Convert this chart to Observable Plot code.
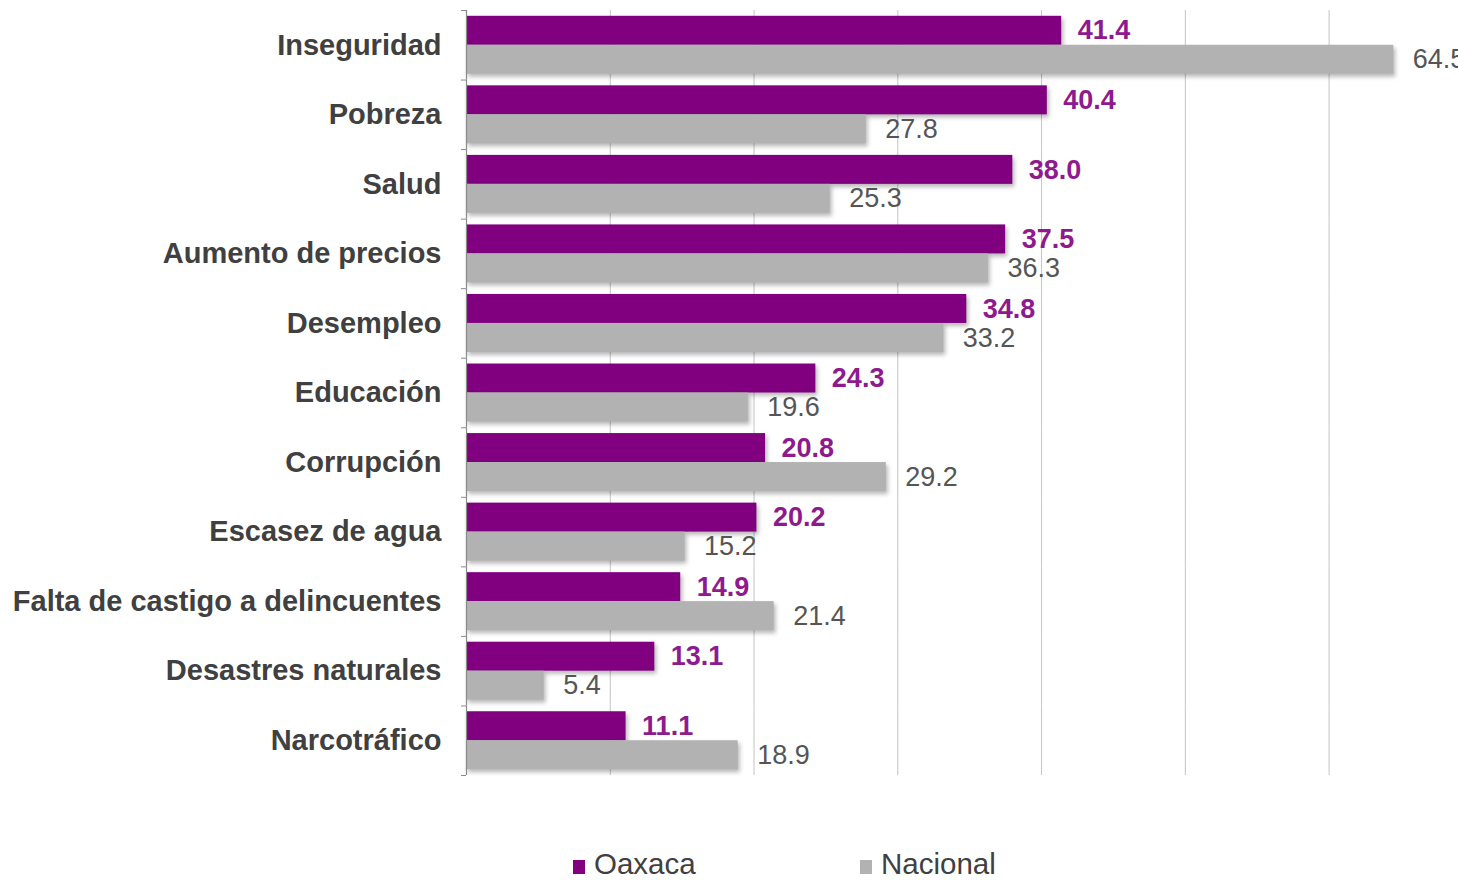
<!DOCTYPE html>
<html>
<head>
<meta charset="utf-8">
<script src="https://cdn.jsdelivr.net/npm/d3@7"></script>
<script src="https://cdn.jsdelivr.net/npm/@observablehq/plot@0.6"></script>
<style>
  html, body { margin: 0; padding: 0; background: #fff; overflow: hidden; }
  #wrap { position: relative; width: 1458px; height: 880px; font-family: "Liberation Sans", Arial, sans-serif; }
  .legend-item { position: absolute; top: 849px; font-size: 29.5px; line-height: 1; color: #404040; display: flex; align-items: baseline; white-space: nowrap; }
  .legend-item .sw { display: inline-block; width: 12px; height: 14px; margin-right: 9px; }
  svg g[aria-label="bar"] rect { filter: drop-shadow(2px 3px 2px rgba(0,0,0,0.28)); }
</style>
</head>
<body>
<div id="wrap"></div>
<script>
const categories = ["Inseguridad","Pobreza","Salud","Aumento de precios","Desempleo","Educación","Corrupción","Escasez de agua","Falta de castigo a delincuentes","Desastres naturales","Narcotráfico"];
const oaxaca   = [41.4, 40.4, 38.0, 37.5, 34.8, 24.3, 20.8, 20.2, 14.9, 13.1, 11.1];
const nacional = [64.5, 27.8, 25.3, 36.3, 33.2, 19.6, 29.2, 15.2, 21.4, 5.4, 18.9];
const seriesNames = ["Oaxaca", "Nacional"];
const seriesColors = ["#800080", "#b2b2b2"];
const labelColors = ["#8e1a8e", "#555555"];
const gridTicks = [10, 20, 30, 40, 50, 60];

const data = [];
categories.forEach((c, i) => {
  data.push({category: c, series: seriesNames[0], value: oaxaca[i]});
  data.push({category: c, series: seriesNames[1], value: nacional[i]});
});

const H = 800, MT = 10, MB = 25;
const step = (H - MT - MB) / categories.length;

const chart = Plot.plot({
  width: 1458,
  height: H,
  marginLeft: 466,
  marginRight: 0,
  marginTop: MT,
  marginBottom: MB,
  style: {fontFamily: '"Liberation Sans", Arial, sans-serif', background: "#fff", overflow: "visible"},
  x: {domain: [0, 69], axis: null},
  y: {domain: seriesNames, paddingInner: 0, paddingOuter: 0.2, round: false, axis: null},
  fy: {domain: categories, padding: 0, round: false, axis: null},
  color: {domain: seriesNames, range: seriesColors},
  marks: [
    Plot.gridX(gridTicks, {stroke: "#c4c4c4", strokeOpacity: 1, strokeWidth: 1}),
    Plot.barX(data, {x: "value", y: "series", fy: "category", fill: "series"}),
    Plot.ruleX([0], {stroke: "#8a8a8a", strokeWidth: 1.2}),
    Plot.text(data.filter(d => d.series === "Oaxaca"), {
      x: "value", y: "series", fy: "category", text: d => d.value.toFixed(1),
      textAnchor: "start", dx: 16, fill: labelColors[0], fontWeight: "bold", fontSize: 27
    }),
    Plot.text(data.filter(d => d.series === "Nacional"), {
      x: "value", y: "series", fy: "category", text: d => d.value.toFixed(1),
      textAnchor: "start", dx: 19, fill: labelColors[1], fontSize: 27
    }),
    Plot.axisFy({anchor: "left", tickSize: 0, tickPadding: 25, fontSize: 29, fontWeight: "bold", color: "#404040", label: null}),
    Plot.axisFy({anchor: "left", tickSize: 5, text: null, dy: -step / 2, color: "#8a8a8a", label: null}),
    Plot.axisFy({anchor: "left", ticks: [categories[categories.length - 1]], tickSize: 5, text: null, dy: step / 2, color: "#8a8a8a", label: null})
  ]
});

const wrap = document.getElementById("wrap");
wrap.appendChild(chart);

const legendLeft = [573, 860];
seriesNames.forEach((name, i) => {
  const item = document.createElement("div");
  item.className = "legend-item";
  item.style.left = legendLeft[i] + "px";
  const sw = document.createElement("span");
  sw.className = "sw";
  sw.style.background = seriesColors[i];
  item.appendChild(sw);
  item.appendChild(document.createTextNode(name));
  wrap.appendChild(item);
});
</script>
</body>
</html>
